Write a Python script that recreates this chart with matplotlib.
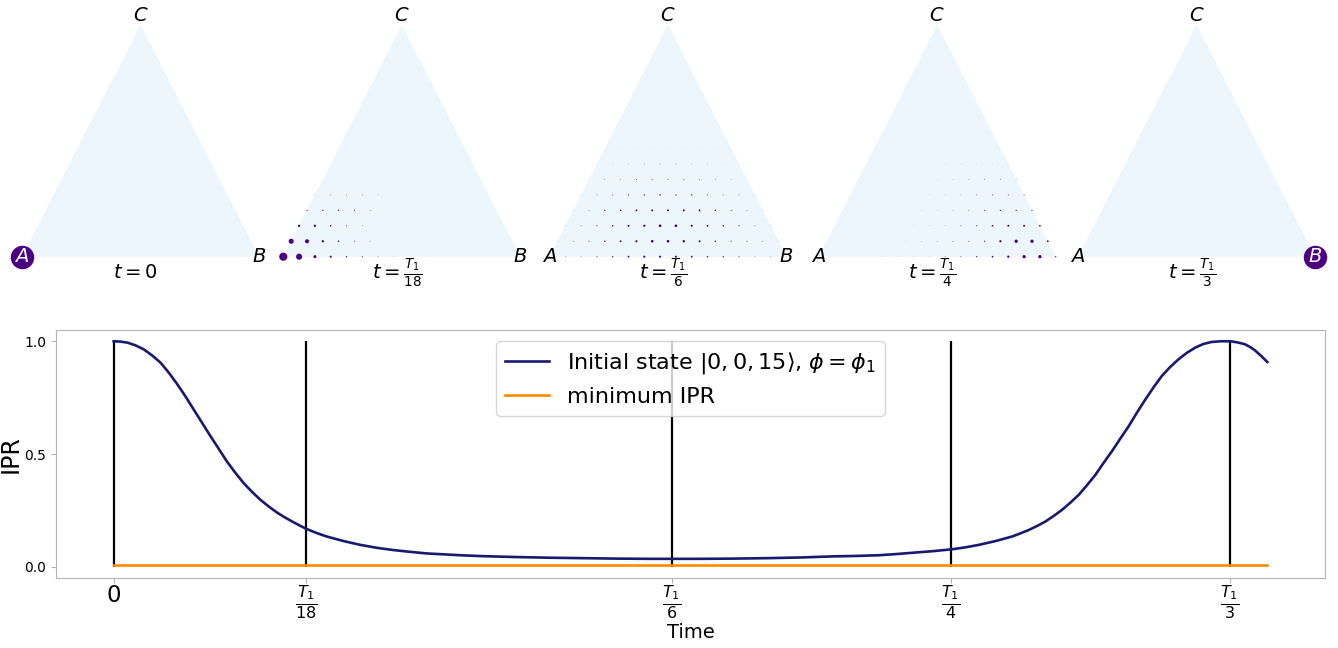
import matplotlib
matplotlib.use("Agg")
import matplotlib.pyplot as plt
from matplotlib.patches import Polygon

# ---- data ----
# IPR curve, time in units of T1
time_T1 = [0.0, 0.002, 0.0041, 0.0065, 0.009, 0.0115, 0.014, 0.0165, 0.019, 0.0215,
           0.0239, 0.0264, 0.0289, 0.0314, 0.0338, 0.0363, 0.0388, 0.0413, 0.0438, 0.0463,
           0.0488, 0.0512, 0.0536, 0.0555, 0.0575, 0.0605, 0.0636, 0.0686, 0.0736, 0.0785,
           0.0835, 0.0885, 0.0934, 0.0984, 0.1034, 0.11, 0.12, 0.13, 0.14, 0.15,
           0.16, 0.1667, 0.175, 0.185, 0.195, 0.205, 0.215, 0.222, 0.2285, 0.2335,
           0.2385, 0.2445, 0.2501, 0.2543, 0.2583, 0.2633, 0.2682, 0.2707, 0.2732, 0.2757,
           0.2781, 0.2806, 0.2831, 0.2856, 0.2881, 0.2906, 0.2931, 0.2955, 0.298, 0.3005,
           0.303, 0.3055, 0.308, 0.3105, 0.3129, 0.3154, 0.3179, 0.3204, 0.3229, 0.3253,
           0.3278, 0.3306, 0.3334, 0.3355, 0.3377, 0.3392, 0.3406, 0.3425, 0.3444]
ipr = [1.0, 0.9985, 0.994, 0.982, 0.964, 0.937, 0.905, 0.86, 0.809, 0.754,
       0.697, 0.638, 0.579, 0.522, 0.467, 0.417, 0.371, 0.332, 0.297, 0.267,
       0.240, 0.218, 0.198, 0.183, 0.168, 0.150, 0.134, 0.114, 0.097, 0.084,
       0.074, 0.066, 0.059, 0.055, 0.051, 0.047, 0.043, 0.040, 0.038, 0.036,
       0.035, 0.035, 0.035, 0.036, 0.038, 0.041, 0.046, 0.048, 0.051, 0.056,
       0.062, 0.069, 0.077, 0.086, 0.097, 0.114, 0.134, 0.148, 0.163, 0.181,
       0.200, 0.225, 0.252, 0.284, 0.319, 0.362, 0.408, 0.46, 0.512, 0.568,
       0.623, 0.684, 0.742, 0.797, 0.846, 0.886, 0.920, 0.949, 0.972, 0.988,
       0.997, 1.0, 1.0, 0.995, 0.987, 0.975, 0.961, 0.936, 0.908]
min_ipr = 0.0074

tick_times = [0.0, 0.0575, 0.1667, 0.25, 0.3333]
tick_labels = ['$0$', r'$\frac{T_1}{18}$', r'$\frac{T_1}{6}$', r'$\frac{T_1}{4}$', r'$\frac{T_1}{3}$']
snap_labels = ['$t=0$', r'$t=\frac{T_1}{18}$', r'$t=\frac{T_1}{6}$', r'$t=\frac{T_1}{4}$', r'$t=\frac{T_1}{3}$']
left_labels = ['A', '', 'A', 'A', 'A']
right_labels = ['B', 'B', 'B', '', 'B']

# site probabilities, row r (bottom = 0) has 16 - r sites
probs_t0 = [[1.0]]
probs_t18 = [
    [0.121, 0.068, 0.017, 0.0076, 0.0032, 0.0019, 0.001, 0.0005],
    [0.047, 0.030, 0.010, 0.0043, 0.0019, 0.0008],
    [0.010, 0.010, 0.0043, 0.0019, 0.0008],
    [0.0025, 0.0032, 0.0032, 0.0019, 0.001],
    [0.0005, 0.001, 0.001, 0.001, 0.0005],
]
probs_t6 = [
    [0.0005, 0.0008, 0.001, 0.002, 0.003, 0.006, 0.008, 0.008, 0.008, 0.006, 0.004, 0.003, 0.002, 0.001, 0.0008, 0.0005],
    [0.0005, 0.001, 0.002, 0.004, 0.006, 0.008, 0.013, 0.013, 0.011, 0.007, 0.004, 0.002, 0.0015, 0.001, 0.0005],
    [0.0005, 0.001, 0.002, 0.004, 0.007, 0.009, 0.013, 0.013, 0.008, 0.006, 0.004, 0.002, 0.001, 0.0005],
    [0.0005, 0.001, 0.003, 0.004, 0.006, 0.007, 0.007, 0.007, 0.006, 0.004, 0.002, 0.001, 0.0005],
    [0.0004, 0.0008, 0.0015, 0.0025, 0.003, 0.004, 0.003, 0.003, 0.002, 0.0012, 0.0008, 0.0004],
    [0.0003, 0.0008, 0.001, 0.0015, 0.0015, 0.0015, 0.0015, 0.0012, 0.001, 0.0006, 0.0003],
    [0.0002, 0.0004, 0.0006, 0.0007, 0.0007, 0.0007, 0.0006, 0.0005, 0.0003, 0.0002],
    [0.0, 0.0002, 0.0002, 0.0003, 0.0003, 0.0003, 0.0002, 0.0002, 0.0],
]
probs_t4 = [
    [0, 0, 0, 0, 0.0003, 0.0003, 0.0004, 0.0005, 0.001, 0.0015, 0.003, 0.005, 0.009, 0.02, 0.02, 0.003],
    [0, 0, 0, 0, 0, 0.0003, 0.0004, 0.0005, 0.001, 0.0015, 0.003, 0.009, 0.02, 0.02, 0.006],
    [0, 0, 0, 0, 0, 0.0003, 0.0004, 0.0005, 0.001, 0.002, 0.005, 0.007, 0.007, 0.005],
    [0, 0, 0, 0, 0, 0.0003, 0.0004, 0.0006, 0.001, 0.002, 0.003, 0.003, 0.0025],
    [0, 0, 0, 0, 0, 0.0003, 0.0004, 0.0006, 0.001, 0.0015, 0.0015, 0.0015],
    [0, 0, 0, 0, 0, 0.0003, 0.0004, 0.0006, 0.0008, 0.0008, 0.0005],
    [0, 0, 0, 0, 0, 0.0002, 0.0003, 0.0003, 0.0003, 0.0002],
]
probs_t3 = [[0] * 15 + [1.0]]
snapshots = [probs_t0, probs_t18, probs_t6, probs_t4, probs_t3]

# ---- figure ----
W, H = 1338, 648
fig = plt.figure(figsize=(W / 100, H / 100), dpi=100)

tri_left_px = [22, 283.3, 549.5, 818.7, 1078]
dx, dy, base_y = 15.8, 15.45, 256.7
N = 15
dot_color = '#4b0082'

for k, probs in enumerate(snapshots):
    lc = tri_left_px[k]
    ax = fig.add_axes([(lc - dx) / W, (H - base_y - dy) / H, 17 * dx / W, 17 * dy / H])
    ax.set_xlim(-1, 16)
    ax.set_ylim(-1, 16)
    ax.axis('off')
    ax.add_patch(Polygon([(0, 0), (N, 0), (N / 2, N)], closed=True,
                         facecolor='#edf5fd', edgecolor='none', zorder=1))
    xs, ys, ss = [], [], []
    for r, row in enumerate(probs):
        for c, p in enumerate(row):
            if p > 0:
                xs.append(c + r / 2)
                ys.append(r)
                ss.append(285 * p)
    ax.scatter(xs, ys, s=ss, c=dot_color, linewidths=0, zorder=2)

    # corner labels; white where the corner holds the whole state
    bottom = probs[0]
    p_left = bottom[0] if bottom else 0
    p_right = bottom[N] if len(bottom) > N else 0
    if left_labels[k]:
        ax.text(0, 0, '$%s$' % left_labels[k], ha='center', va='center', fontsize=14,
                color='white' if p_left > 0.5 else 'black', zorder=3)
    if right_labels[k]:
        ax.text(N, 0, '$%s$' % right_labels[k], ha='center', va='center', fontsize=14,
                color='white' if p_right > 0.5 else 'black', zorder=3)
    ax.text(N / 2, 15.58, '$C$', ha='center', va='center', fontsize=14)
    ax.text(7.2, -1.05, snap_labels[k], ha='center', va='center', fontsize=14)

# ---- IPR panel ----
ax = fig.add_axes([56 / W, 1 - 578 / H, (1325 - 56) / W, (578 - 330) / H])
ax.vlines(tick_times, 0, 1, color='black', lw=1.6, zorder=1)
ax.plot(time_T1, ipr, color='#191970', lw=1.9, label=r'Initial state $|0, 0, 15\rangle$, $\phi=\phi_1$', zorder=2)
ax.plot([time_T1[0], time_T1[-1]], [min_ipr, min_ipr], color='darkorange', lw=1.9,
        label='minimum IPR', zorder=2)
ax.set_ylim(-0.05, 1.05)
ax.set_xticks(tick_times)
ax.set_xticklabels(tick_labels, fontsize=16.5)
ax.set_yticks([0, 0.5, 1.0])
ax.set_yticklabels(['0.0', '0.5', '1.0'], fontsize=10)
ax.set_xlabel('Time', fontsize=14, labelpad=1)
ax.set_ylabel('IPR', fontsize=17, labelpad=1)
for sp in ax.spines.values():
    sp.set_color('#b3b3b3')
ax.tick_params(color='#b3b3b3', length=3.5)
ax.tick_params(axis='x', pad=0.5)
ax.legend(loc='upper center', fontsize=16)

fig.savefig('out.png', dpi=100)
